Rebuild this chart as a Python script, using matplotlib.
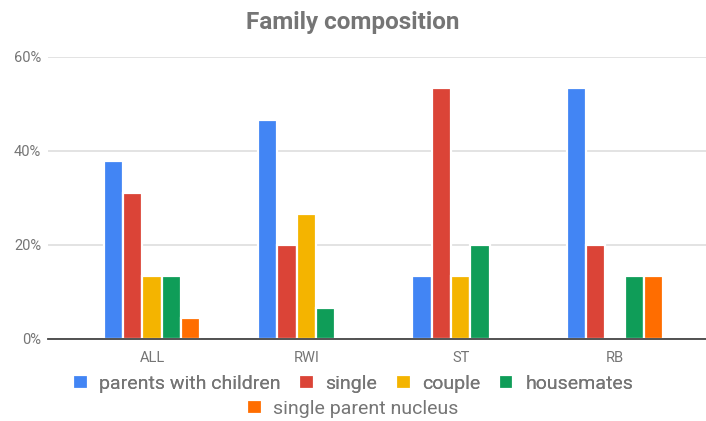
import matplotlib
matplotlib.use("Agg")
import matplotlib.pyplot as plt
import numpy as np
from matplotlib.ticker import FuncFormatter

# Share of each family type per group (%)
groups = ["ALL", "RWI", "ST", "RB"]
series = ["parents with children", "single", "couple", "housemates", "single parent nucleus"]
parents_with_children = [37.8, 46.7, 13.3, 53.3]
single = [31.1, 20.0, 53.3, 20.0]
couple = [13.3, 26.7, 13.3, 0.0]
housemates = [13.3, 6.7, 20.0, 13.3]
single_parent_nucleus = [4.4, 0.0, 0.0, 13.3]
colors = ["#4285F4", "#DB4437", "#F4B400", "#0F9D58", "#FF6D00"]

values = [parents_with_children, single, couple, housemates, single_parent_nucleus]

plt.rcParams["font.family"] = ["Roboto", "DejaVu Sans"]
text_gray = "#757575"

fig = plt.figure(figsize=(7.06, 4.21), dpi=100)
ax = fig.add_axes([48 / 706, 1 - 339 / 421, 658 / 706, 282 / 421])

x = np.arange(len(groups))
slot = 0.125
handles = []
for i, (name, vals) in enumerate(zip(series, values)):
    offset = (i - 2) * slot
    bars = ax.bar(x + offset, vals, width=slot, color=colors[i],
                  edgecolor="white", linewidth=1.6, label=name, zorder=3)
    handles.append(bars)

ax.set_xlim(-0.674, 3.59)
ax.set_ylim(0, 60)
ax.set_yticks([0, 20, 40, 60])
ax.yaxis.set_major_formatter(FuncFormatter(lambda v, p: f"{v:.0f}%"))
ax.set_xticks(x)
ax.set_xticklabels(groups)
ax.tick_params(axis="both", length=0, labelsize=10.5, labelcolor=text_gray)
ax.tick_params(axis="x", pad=9)
ax.tick_params(axis="y", pad=5)

ax.grid(axis="y", color="#dedede", linewidth=1.2, zorder=0)
for side in ["top", "right", "left"]:
    ax.spines[side].set_visible(False)
ax.spines["bottom"].set_color("#444444")
ax.spines["bottom"].set_linewidth(1.3)
ax.spines["bottom"].set_zorder(4)

fig.text(0.5, 1 - 22 / 421, "Family composition", ha="center", va="center",
         fontsize=17.5, fontweight="bold", color=text_gray)

# Legend wraps onto two centred rows
leg_kw = dict(frameon=False, fontsize=14, labelcolor=text_gray,
              handlelength=0.75, handleheight=0.75, handletextpad=0.6,
              columnspacing=0.95, loc="center")
leg1 = fig.legend(handles[:4], series[:4], ncol=4,
                  bbox_to_anchor=(0.5, 1 - 384 / 421), **leg_kw)
fig.legend(handles[4:], series[4:], ncol=1,
           bbox_to_anchor=(0.5, 1 - 409 / 421), **leg_kw)
fig.add_artist(leg1)

fig.savefig("out.png", dpi=100)
